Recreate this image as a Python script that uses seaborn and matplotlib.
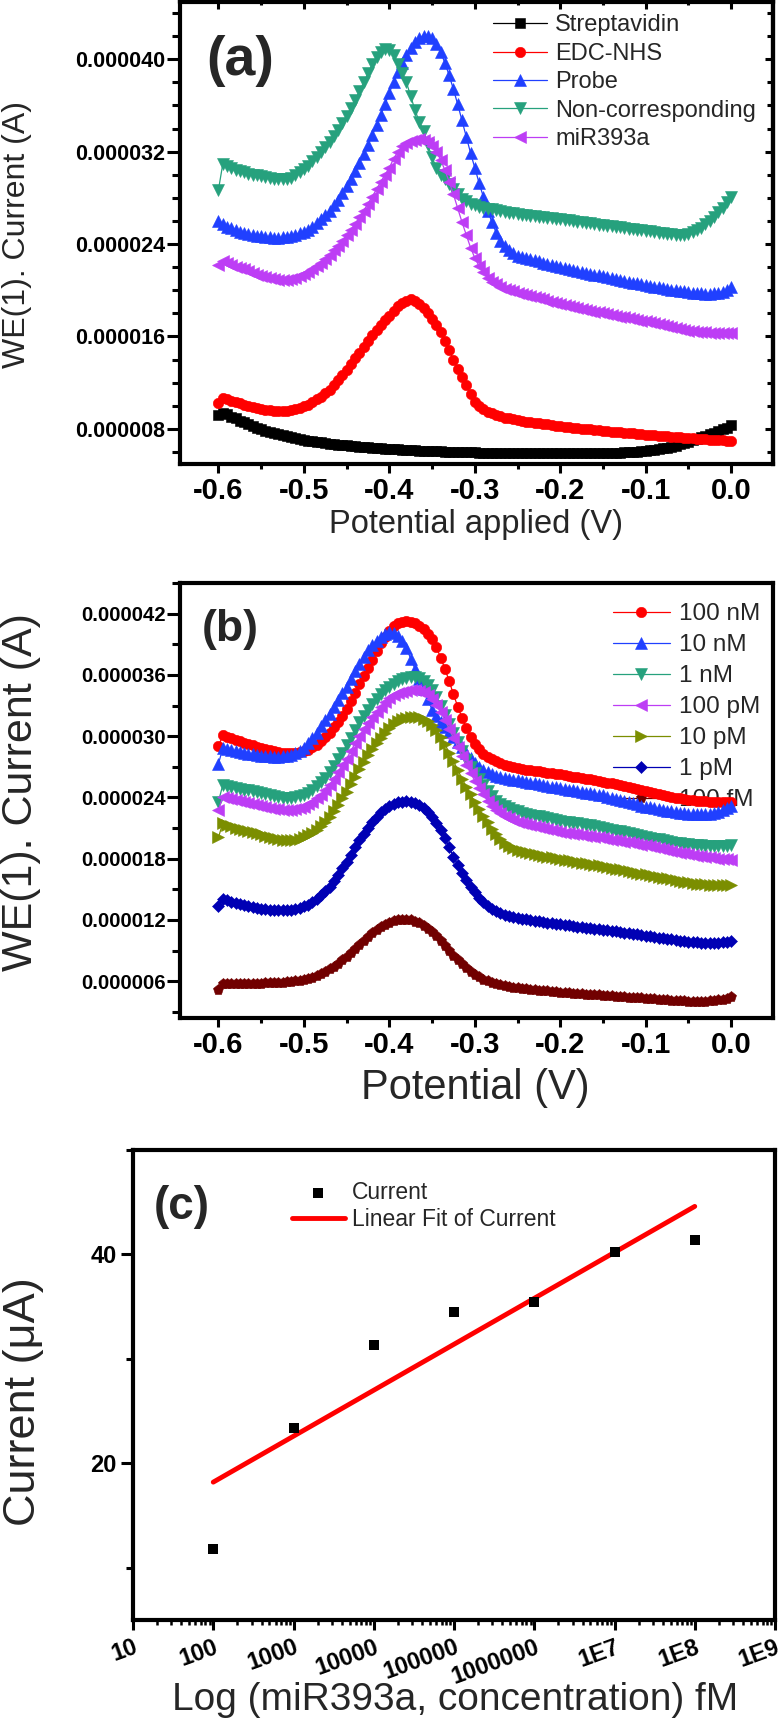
import numpy as np
import matplotlib
matplotlib.use("Agg")
import matplotlib.pyplot as plt
from matplotlib.ticker import MultipleLocator, LogLocator, NullFormatter
import seaborn as sns

# ---------------------------------------------------------------- data
potential = np.round(np.linspace(-0.6, 0.0, 121), 3)  # V, 5 mV steps

# panel (a) currents, uA
strep = [9.2, 9.4, 9.25, 9.05, 8.9, 8.7, 8.55, 8.4, 8.25, 8.1,
         7.95, 7.85, 7.75, 7.65, 7.55, 7.45, 7.35, 7.28, 7.2, 7.12,
         7.05, 6.99, 6.93, 6.88, 6.83, 6.78, 6.73, 6.68, 6.64, 6.6,
         6.56, 6.53, 6.5, 6.47, 6.44, 6.41, 6.38, 6.35, 6.32, 6.29,
         6.26, 6.24, 6.22, 6.2, 6.18, 6.16, 6.14, 6.12, 6.1, 6.08,
         6.06, 6.05, 6.04, 6.03, 6.02, 6.01, 6.0, 5.99, 5.98, 5.97,
         5.96, 5.95, 5.95, 5.95, 5.94, 5.94, 5.94, 5.93, 5.93, 5.93,
         5.92, 5.92, 5.92, 5.91, 5.91, 5.91, 5.9, 5.9, 5.9, 5.9,
         5.9, 5.89, 5.89, 5.89, 5.88, 5.88, 5.88, 5.88, 5.88, 5.88,
         5.89, 5.9, 5.91, 5.92, 5.94, 5.96, 5.98, 6.0, 6.03, 6.06,
         6.1, 6.14, 6.19, 6.25, 6.31, 6.38, 6.46, 6.55, 6.65, 6.76,
         6.88, 7.0, 7.13, 7.26, 7.4, 7.54, 7.68, 7.82, 7.96, 8.1,
         8.3]
edc = [10.23, 10.67, 10.55, 10.45, 10.35, 10.25, 10.1, 10.0, 9.9, 9.8,
       9.7, 9.64, 9.6, 9.56, 9.53, 9.52, 9.54, 9.6, 9.7, 9.82,
       9.95, 10.1, 10.3, 10.55, 10.8, 11.1, 11.4, 11.8, 12.2, 12.65,
       13.1, 13.6, 14.1, 14.6, 15.1, 15.6, 16.1, 16.55, 17.0, 17.4,
       17.8, 18.2, 18.6, 18.9, 19.1, 19.2, 19.1, 18.85, 18.5, 18.05,
       17.5, 17.0, 16.4, 15.6, 14.8, 14.0, 13.2, 12.5, 11.8, 11.0,
       10.3, 9.95, 9.7, 9.5, 9.35, 9.2, 9.08, 8.98, 8.9, 8.82,
       8.75, 8.69, 8.63, 8.58, 8.53, 8.48, 8.43, 8.38, 8.33, 8.28,
       8.23, 8.19, 8.15, 8.11, 8.07, 8.03, 7.99, 7.95, 7.91, 7.87,
       7.83, 7.8, 7.76, 7.73, 7.7, 7.66, 7.63, 7.6, 7.57, 7.54,
       7.5, 7.47, 7.44, 7.41, 7.38, 7.35, 7.32, 7.29, 7.26, 7.23,
       7.2, 7.17, 7.14, 7.12, 7.09, 7.07, 7.05, 7.03, 7.01, 6.99,
       6.97]
probe = [26.0, 25.7, 25.5, 25.35, 25.2, 25.05, 24.95, 24.85, 24.78, 24.72,
         24.66, 24.61, 24.57, 24.55, 24.55, 24.57, 24.62, 24.7, 24.8, 24.92,
         25.05, 25.25, 25.5, 25.8, 26.15, 26.5, 26.9, 27.35, 27.85, 28.4,
         29.0, 29.6, 30.3, 31.0, 31.8, 32.6, 33.4, 34.3, 35.2, 36.1,
         37.1, 38.0, 38.9, 39.7, 40.4, 41.0, 41.5, 41.8, 42.0, 42.0,
         41.8, 41.3, 40.6, 39.7, 38.6, 37.4, 36.1, 34.7, 33.3, 31.9,
         30.6, 29.3, 28.1, 26.9, 25.9, 25.0, 24.3, 23.8, 23.45, 23.2,
         23.0, 22.9, 22.8, 22.7, 22.6, 22.5, 22.4, 22.3, 22.2, 22.1,
         22.0, 21.92, 21.84, 21.76, 21.68, 21.6, 21.52, 21.44, 21.36, 21.28,
         21.2, 21.12, 21.04, 20.96, 20.88, 20.8, 20.73, 20.66, 20.59, 20.52,
         20.45, 20.38, 20.31, 20.24, 20.17, 20.1, 20.05, 20.0, 19.95, 19.9,
         19.85, 19.8, 19.76, 19.73, 19.71, 19.7, 19.72, 19.78, 19.88, 20.05,
         20.3]
noncorr = [28.7, 30.9, 30.75, 30.6, 30.45, 30.3, 30.2, 30.1, 30.0, 29.95,
           29.9, 29.8, 29.7, 29.65, 29.6, 29.6, 29.65, 29.75, 29.95, 30.2,
           30.5, 30.8, 31.15, 31.55, 32.0, 32.4, 32.85, 33.35, 33.9, 34.5,
           35.1, 35.8, 36.5, 37.25, 38.0, 38.8, 39.6, 40.2, 40.6, 40.85,
           40.8, 40.4, 39.6, 38.8, 38.0, 36.8, 35.6, 34.6, 33.8, 32.6,
           31.5, 30.6, 30.0, 29.6, 29.2, 28.8, 28.3, 27.9, 27.7, 27.5,
           27.35, 27.25, 27.15, 27.07, 27.0, 26.92, 26.85, 26.78, 26.71, 26.65,
           26.6, 26.55, 26.5, 26.45, 26.4, 26.35, 26.3, 26.26, 26.22, 26.18,
           26.14, 26.09, 26.04, 25.99, 25.94, 25.89, 25.84, 25.79, 25.74, 25.69,
           25.64, 25.59, 25.54, 25.49, 25.44, 25.39, 25.34, 25.29, 25.24, 25.19,
           25.14, 25.09, 25.04, 24.99, 24.94, 24.9, 24.86, 24.82, 24.8, 24.82,
           24.9, 25.02, 25.2, 25.42, 25.7, 26.0, 26.35, 26.75, 27.15, 27.6,
           28.05]
mir393a = [22.2, 22.5, 22.35, 22.2, 22.05, 21.9, 21.8, 21.65, 21.5, 21.35,
           21.25, 21.15, 21.05, 20.98, 20.92, 20.9, 20.92, 21.0, 21.1, 21.25,
           21.4, 21.6, 21.85, 22.1, 22.4, 22.7, 23.05, 23.45, 23.85, 24.3,
           24.75, 25.25, 25.75, 26.3, 26.9, 27.5, 28.1, 28.75, 29.4, 30.0,
           30.6, 31.4, 32.0, 32.45, 32.75, 32.95, 33.05, 33.1, 33.05, 32.85,
           32.5, 32.0, 31.3, 30.4, 29.4, 28.3, 27.1, 25.9, 24.8, 23.7,
           22.8, 22.1, 21.55, 21.1, 20.75, 20.5, 20.3, 20.15, 20.02, 19.9,
           19.8, 19.7, 19.6, 19.5, 19.4, 19.3, 19.2, 19.1, 19.0, 18.9,
           18.8, 18.72, 18.64, 18.56, 18.48, 18.4, 18.32, 18.24, 18.16, 18.08,
           18.0, 17.93, 17.86, 17.79, 17.72, 17.65, 17.58, 17.51, 17.44, 17.37,
           17.3, 17.22, 17.14, 17.06, 16.98, 16.9, 16.82, 16.74, 16.66, 16.58,
           16.5, 16.45, 16.41, 16.38, 16.35, 16.33, 16.31, 16.3, 16.3, 16.3,
           16.3]

# panel (b) currents, uA
nM100 = [29.0, 30.1, 29.95, 29.8, 29.65, 29.5, 29.38, 29.25, 29.1, 28.95,
         28.82, 28.7, 28.6, 28.5, 28.42, 28.36, 28.32, 28.32, 28.35, 28.42,
         28.52, 28.68, 28.9, 29.18, 29.5, 29.9, 30.35, 30.85, 31.4, 32.0,
         32.7, 33.45, 34.25, 35.1, 35.9, 36.7, 37.5, 38.3, 39.1, 39.75,
         40.3, 40.75, 41.05, 41.2, 41.25, 41.2, 41.05, 40.8, 40.45, 40.0,
         39.5, 38.7, 37.7, 36.6, 35.4, 34.1, 32.9, 31.8, 30.8, 29.9,
         29.2, 28.7, 28.3, 28.0, 27.75, 27.55, 27.38, 27.22, 27.08, 26.95,
         26.85, 26.79, 26.73, 26.67, 26.61, 26.55, 26.49, 26.43, 26.37, 26.31,
         26.25, 26.18, 26.11, 26.04, 25.97, 25.9, 25.83, 25.76, 25.69, 25.62,
         25.55, 25.46, 25.37, 25.28, 25.19, 25.1, 25.0, 24.9, 24.8, 24.7,
         24.6, 24.51, 24.42, 24.33, 24.24, 24.15, 24.06, 23.98, 23.9, 23.83,
         23.77, 23.72, 23.68, 23.65, 23.62, 23.6, 23.58, 23.57, 23.57, 23.58,
         23.6]
nM10 = [27.3, 28.8, 28.7, 28.6, 28.5, 28.42, 28.35, 28.28, 28.22, 28.16,
        28.1, 28.06, 28.03, 28.0, 28.0, 28.02, 28.08, 28.2, 28.35, 28.55,
        28.8, 29.3, 29.8, 30.35, 30.95, 31.55, 32.2, 32.85, 33.5, 34.2,
        34.8, 35.6, 36.4, 37.1, 37.8, 38.4, 38.9, 39.35, 39.75, 40.05,
        40.2, 40.1, 39.8, 39.3, 38.6, 37.6, 36.6, 35.6, 34.6, 33.6,
        32.6, 32.0, 31.4, 30.9, 30.4, 29.9, 29.4, 28.9, 28.4, 27.9,
        27.4, 27.0, 26.7, 26.45, 26.25, 26.1, 26.0, 25.9, 25.82, 25.75,
        25.7, 25.62, 25.54, 25.46, 25.38, 25.3, 25.22, 25.14, 25.06, 24.98,
        24.9, 24.83, 24.76, 24.69, 24.62, 24.55, 24.48, 24.41, 24.34, 24.27,
        24.2, 24.09, 23.98, 23.87, 23.76, 23.65, 23.54, 23.43, 23.32, 23.21,
        23.1, 23.02, 22.94, 22.86, 22.78, 22.7, 22.63, 22.56, 22.5, 22.45,
        22.41, 22.38, 22.36, 22.35, 22.36, 22.4, 22.48, 22.6, 22.77, 22.97,
        23.2]
nM1 = [23.6, 25.2, 25.1, 25.0, 24.92, 24.84, 24.76, 24.68, 24.6, 24.5,
       24.42, 24.32, 24.22, 24.1, 24.0, 23.93, 23.92, 23.95, 24.02, 24.1,
       24.22, 24.45, 24.75, 25.1, 25.5, 25.95, 26.45, 27.1, 27.75, 28.4,
       29.1, 29.85, 30.6, 31.35, 32.0, 32.6, 33.15, 33.65, 34.1, 34.5,
       34.85, 35.15, 35.4, 35.58, 35.7, 35.78, 35.8, 35.72, 35.45, 35.05,
       34.5, 33.8, 33.0, 32.1, 31.2, 30.3, 29.4, 28.5, 27.7, 27.0,
       26.4, 25.8, 25.2, 24.6, 24.1, 23.7, 23.4, 23.15, 22.95, 22.78,
       22.63, 22.52, 22.42, 22.32, 22.23, 22.14, 22.05, 21.96, 21.87, 21.78,
       21.69, 21.63, 21.57, 21.51, 21.45, 21.39, 21.33, 21.27, 21.2, 21.12,
       21.03, 20.94, 20.85, 20.76, 20.67, 20.58, 20.49, 20.4, 20.31, 20.22,
       20.13, 20.05, 19.97, 19.89, 19.81, 19.73, 19.65, 19.58, 19.51, 19.45,
       19.4, 19.36, 19.33, 19.31, 19.29, 19.28, 19.27, 19.27, 19.27, 19.28,
       19.3]
pM100 = [22.75, 24.05, 23.95, 23.85, 23.75, 23.66, 23.57, 23.48, 23.39, 23.3,
         23.2, 23.1, 23.0, 22.9, 22.82, 22.77, 22.75, 22.78, 22.85, 22.95,
         23.1, 23.32, 23.6, 23.92, 24.28, 24.68, 25.2, 25.85, 26.5, 27.15,
         27.8, 28.55, 29.3, 30.05, 30.7, 31.3, 31.85, 32.4, 32.9, 33.35,
         33.7, 34.0, 34.2, 34.35, 34.45, 34.5, 34.5, 34.45, 34.3, 34.0,
         33.65, 33.1, 32.4, 31.6, 30.75, 29.85, 28.95, 28.05, 27.2, 26.4,
         25.65, 24.95, 24.3, 23.7, 23.2, 22.8, 22.48, 22.22, 22.0, 21.8,
         21.63, 21.52, 21.42, 21.32, 21.22, 21.12, 21.02, 20.92, 20.82, 20.72,
         20.62, 20.56, 20.5, 20.44, 20.38, 20.32, 20.26, 20.2, 20.14, 20.08,
         20.02, 19.95, 19.88, 19.81, 19.74, 19.67, 19.6, 19.53, 19.46, 19.39,
         19.32, 19.23, 19.14, 19.05, 18.96, 18.87, 18.78, 18.69, 18.6, 18.52,
         18.44, 18.37, 18.3, 18.24, 18.18, 18.12, 18.06, 18.01, 17.97, 17.93,
         17.9]
pM10 = [20.1, 21.45, 21.3, 21.17, 21.05, 20.94, 20.83, 20.72, 20.61, 20.5,
        20.38, 20.26, 20.14, 20.02, 19.92, 19.85, 19.82, 19.83, 19.88, 19.97,
        20.1, 20.3, 20.55, 20.85, 21.2, 21.6, 22.05, 22.65, 23.25, 23.9,
        24.55, 25.3, 26.05, 26.8, 27.5, 28.15, 28.75, 29.3, 29.85, 30.35,
        30.8, 31.15, 31.45, 31.65, 31.8, 31.88, 31.9, 31.85, 31.7, 31.45,
        31.1, 30.6, 29.95, 29.2, 28.4, 27.55, 26.7, 25.85, 25.05, 24.3,
        23.55, 22.85, 22.2, 21.55, 20.95, 20.4, 19.95, 19.58, 19.28, 19.03,
        18.82, 18.72, 18.63, 18.54, 18.45, 18.37, 18.29, 18.21, 18.13, 18.05,
        17.97, 17.9, 17.83, 17.76, 17.69, 17.62, 17.55, 17.48, 17.41, 17.34,
        17.27, 17.19, 17.11, 17.03, 16.95, 16.87, 16.79, 16.71, 16.63, 16.55,
        16.47, 16.39, 16.31, 16.23, 16.15, 16.07, 15.99, 15.91, 15.83, 15.76,
        15.69, 15.63, 15.57, 15.52, 15.48, 15.45, 15.42, 15.4, 15.39, 15.39,
        15.4]
pM1 = [13.4, 14.1, 13.95, 13.8, 13.66, 13.54, 13.43, 13.33, 13.24, 13.16,
       13.1, 13.05, 13.0, 12.97, 12.95, 12.95, 12.97, 13.02, 13.1, 13.2,
       13.32, 13.5, 13.75, 14.05, 14.4, 14.8, 15.25, 15.8, 16.4, 17.05,
       17.7, 18.4, 19.1, 19.8, 20.45, 21.05, 21.6, 22.1, 22.55, 22.9,
       23.2, 23.4, 23.53, 23.6, 23.62, 23.6, 23.5, 23.3, 23.0, 22.6,
       22.1, 21.5, 20.8, 20.0, 19.1, 18.2, 17.4, 16.6, 15.9, 15.25,
       14.7, 14.2, 13.75, 13.4, 13.1, 12.85, 12.65, 12.5, 12.38, 12.28,
       12.2, 12.13, 12.06, 11.99, 11.92, 11.86, 11.8, 11.74, 11.68, 11.62,
       11.56, 11.51, 11.46, 11.41, 11.36, 11.31, 11.26, 11.21, 11.16, 11.11,
       11.06, 11.0, 10.94, 10.88, 10.82, 10.76, 10.7, 10.64, 10.58, 10.52,
       10.46, 10.4, 10.34, 10.28, 10.22, 10.16, 10.1, 10.04, 9.98, 9.93,
       9.88, 9.84, 9.8, 9.77, 9.75, 9.74, 9.74, 9.76, 9.8, 9.87,
       9.97]
fM100 = [5.1, 5.75, 5.76, 5.76, 5.76, 5.76, 5.76, 5.76, 5.76, 5.76,
         5.77, 5.78, 5.8, 5.82, 5.84, 5.87, 5.9, 5.94, 5.99, 6.05,
         6.12, 6.22, 6.34, 6.5, 6.68, 6.9, 7.15, 7.42, 7.72, 8.05,
         8.4, 8.78, 9.17, 9.57, 9.97, 10.35, 10.7, 11.02, 11.3, 11.53,
         11.72, 11.86, 11.95, 12.0, 12.0, 11.95, 11.85, 11.68, 11.45, 11.15,
         10.8, 10.4, 9.95, 9.48, 9.0, 8.52, 8.06, 7.64, 7.26, 6.92,
         6.62, 6.37, 6.16, 5.98, 5.83, 5.7, 5.6, 5.51, 5.43, 5.36,
         5.3, 5.25, 5.2, 5.16, 5.12, 5.08, 5.04, 5.0, 4.96, 4.92,
         4.88, 4.85, 4.82, 4.79, 4.76, 4.73, 4.7, 4.67, 4.64, 4.61,
         4.58, 4.55, 4.52, 4.49, 4.46, 4.43, 4.4, 4.37, 4.34, 4.31,
         4.28, 4.25, 4.22, 4.19, 4.16, 4.13, 4.1, 4.07, 4.05, 4.03,
         4.01, 4.0, 3.99, 3.99, 4.0, 4.02, 4.06, 4.12, 4.2, 4.3,
         4.45]

# panel (c)
concentration_fM = [1e2, 1e3, 1e4, 1e5, 1e6, 1e7, 1e8]
peak_current_uA = [11.8, 23.4, 31.3, 34.45, 35.4, 40.2, 41.4]
fit_conc_fM = [1e2, 1e8]
fit_current_uA = [18.2, 44.6]

a_names = ["Streptavidin", "EDC-NHS", "Probe", "Non-corresponding", "miR393a"]
b_names = ["100 nM", "10 nM", "1 nM", "100 pM", "10 pM", "1 pM", "100 fM"]

v_ticks = [-0.6, -0.5, -0.4, -0.3, -0.2, -0.1, 0.0]
v_labels = ["-0.6", "-0.5", "-0.4", "-0.3", "-0.2", "-0.1", "0.0"]
a_yticks = [8e-6, 16e-6, 24e-6, 32e-6, 40e-6]
a_ylabels = ["0.000008", "0.000016", "0.000024", "0.000032", "0.000040"]
b_yticks = [6e-6, 12e-6, 18e-6, 24e-6, 30e-6, 36e-6, 42e-6]
b_ylabels = ["0.000006", "0.000012", "0.000018", "0.000024", "0.000030",
             "0.000036", "0.000042"]
c_xticks = [1e1, 1e2, 1e3, 1e4, 1e5, 1e6, 1e7, 1e8, 1e9]
c_xlabels = ["10", "100", "1000", "10000", "100000", "1000000", "1E7", "1E8", "1E9"]
c_yticks = [20, 40]
c_ylabels = ["20", "40"]

# ---------------------------------------------------------------- style
sns.set_style("ticks")
plt.rcParams["font.family"] = ["Liberation Sans", "DejaVu Sans"]
plt.rcParams["axes.edgecolor"] = "black"
plt.rcParams["xtick.color"] = "black"
plt.rcParams["ytick.color"] = "black"

SPINE = 3.0
TW = 2.2

fig = plt.figure(figsize=(7.8, 17.22), dpi=100)
W, H = 780.0, 1722.0


def add_axes_px(left, top, right, bottom):
    return fig.add_axes([left / W, 1 - bottom / H, (right - left) / W, (bottom - top) / H])


ax_a = add_axes_px(180, 1.5, 773, 463.5)
ax_b = add_axes_px(180, 583, 773, 1018)
ax_c = add_axes_px(133, 1150, 775, 1620)


def style_potential(ax, yticks, ylabels, ylim, ytick_fs, minor_y):
    ax.set_xlim(-0.645, 0.049)
    ax.set_ylim(*ylim)
    ax.set_xticks(v_ticks)
    ax.set_xticklabels(v_labels, fontsize=21, fontweight="bold")
    ax.xaxis.set_minor_locator(MultipleLocator(0.05))
    ax.set_yticks(yticks)
    ax.set_yticklabels(ylabels, fontsize=ytick_fs, fontweight="bold")
    ax.yaxis.set_minor_locator(MultipleLocator(minor_y))
    ax.tick_params(axis="x", which="major", direction="out", length=6.5, width=TW, pad=3,
                   top=False)
    ax.tick_params(axis="x", which="minor", direction="out", length=3.6, width=TW, top=False)
    ax.tick_params(axis="y", which="major", direction="out", length=9.4, width=TW, pad=1,
                   right=False)
    ax.tick_params(axis="y", which="minor", direction="out", length=5.8, width=TW,
                   right=False)
    for s in ax.spines.values():
        s.set_visible(True)
        s.set_linewidth(SPINE)
        s.set_color("black")


# ---------------------------------------------------------------- panel (a)
a_values = [strep, edc, probe, noncorr, mir393a]
a_colors = ["#000000", "#FF0000", "#2040FF", "#26A17D", "#BD3DF5"]
a_markers = ["s", "o", "^", "v", "<"]
a_sizes = [7.0, 7.5, 8.5, 8.5, 8.5]
for name, vals, col, mk, ms in zip(a_names, a_values, a_colors, a_markers, a_sizes):
    sns.lineplot(x=potential, y=np.asarray(vals) * 1e-6, ax=ax_a, color=col, marker=mk,
                 markersize=ms, markeredgewidth=0.4, markeredgecolor=col, linewidth=0.9,
                 label=name)

style_potential(ax_a, a_yticks, a_ylabels, (5e-6, 45e-6), 15.5, 2e-6)
sx = ax_a.secondary_xaxis("top")
sx.set_xticks(v_ticks)
sx.set_xticklabels([])
sx.xaxis.set_minor_locator(MultipleLocator(0.05))
sx.tick_params(which="major", direction="in", length=6, width=TW)
sx.tick_params(which="minor", direction="in", length=3, width=TW)
sy = ax_a.secondary_yaxis("right")
sy.set_yticks(a_yticks)
sy.set_yticklabels([])
sy.yaxis.set_minor_locator(MultipleLocator(2e-6))
sy.tick_params(which="major", direction="in", length=5.5, width=TW)
sy.tick_params(which="minor", direction="in", length=4, width=TW)
for sec in (sx, sy):
    for s in sec.spines.values():
        s.set_linewidth(SPINE)

ax_a.set_xlabel("Potential applied (V)", fontsize=23.5)
ax_a.xaxis.set_label_coords(0.499, -0.131)
ax_a.xaxis.label.set_va("center")
ax_a.set_ylabel("WE(1). Current (A)", fontsize=23)
ax_a.yaxis.set_label_coords(-0.275, 0.495)
ax_a.yaxis.label.set_va("center")
ax_a.text(0.101, 0.871, "(a)", transform=ax_a.transAxes, fontsize=40, fontweight="bold",
          ha="center", va="center")
leg_a = ax_a.legend(loc="upper left", bbox_to_anchor=(0.528, 0.972), frameon=False,
                    fontsize=17, handlelength=2.29, handletextpad=0.34, labelspacing=0.27,
                    borderpad=0, borderaxespad=0, numpoints=1)

# ---------------------------------------------------------------- panel (b)
b_values = [nM100, nM10, nM1, pM100, pM10, pM1, fM100]
b_colors = ["#FF0000", "#2040FF", "#26A17D", "#BD3DF5", "#7B8E00", "#0000B4", "#710000"]
b_markers = ["o", "^", "v", "<", ">", "D", "p"]
b_sizes = [7.5, 8.5, 8.5, 8.5, 8.5, 6.0, 8.0]
for name, vals, col, mk, ms in zip(b_names, b_values, b_colors, b_markers, b_sizes):
    sns.lineplot(x=potential, y=np.asarray(vals) * 1e-6, ax=ax_b, color=col, marker=mk,
                 markersize=ms, markeredgewidth=0.4, markeredgecolor=col, linewidth=0.9,
                 label=name)

style_potential(ax_b, b_yticks, b_ylabels, (2.4e-6, 45e-6), 14.7, 3e-6)
ax_b.set_xlabel("Potential (V)", fontsize=30)
ax_b.xaxis.set_label_coords(0.4975, -0.161)
ax_b.xaxis.label.set_va("center")
ax_b.set_ylabel("WE(1). Current (A)", fontsize=31)
ax_b.yaxis.set_label_coords(-0.268, 0.52)
ax_b.yaxis.label.set_va("center")
ax_b.text(0.0843, 0.894, "(b)", transform=ax_b.transAxes, fontsize=32, fontweight="bold",
          ha="center", va="center")
leg_b = ax_b.legend(loc="upper left", bbox_to_anchor=(0.730, 0.954), frameon=False,
                    fontsize=17.5, handlelength=2.35, handletextpad=0.37, labelspacing=0.37,
                    borderpad=0, borderaxespad=0, numpoints=1)
leg_b.set_zorder(1)

# ---------------------------------------------------------------- panel (c)
ax_c.set_xscale("log")
sns.scatterplot(x=concentration_fM, y=peak_current_uA, ax=ax_c, marker="s", color="black",
                s=52, linewidth=0, label="Current", zorder=3)
sns.lineplot(x=fit_conc_fM, y=fit_current_uA, ax=ax_c, color="#FF0000", linewidth=3.5,
             label="Linear Fit of Current")
ax_c.set_xlim(10, 1e9)
ax_c.set_ylim(5, 50)
ax_c.set_xticks(c_xticks)
ax_c.set_xticklabels(c_xlabels, rotation=20, ha="right", rotation_mode="anchor",
                     fontsize=17, fontweight="bold")
ax_c.xaxis.set_minor_locator(LogLocator(base=10, subs=np.arange(2, 10)))
ax_c.xaxis.set_minor_formatter(NullFormatter())
ax_c.set_yticks(c_yticks)
ax_c.set_yticklabels(c_ylabels, fontsize=17, fontweight="bold")
ax_c.yaxis.set_minor_locator(MultipleLocator(10))
ax_c.tick_params(axis="x", which="major", direction="out", length=7.2, width=TW, pad=4,
                 top=False)
ax_c.tick_params(axis="x", which="minor", direction="out", length=3.6, width=1.8, top=False)
ax_c.tick_params(axis="y", which="major", direction="out", length=8.6, width=TW, pad=3,
                 right=False)
ax_c.tick_params(axis="y", which="minor", direction="out", length=5, width=TW, right=False)
for s in ax_c.spines.values():
    s.set_visible(True)
    s.set_linewidth(SPINE)
    s.set_color("black")
ax_c.set_xlabel("Log (miR393a, concentration) fM", fontsize=28)
ax_c.xaxis.set_label_coords(0.5016, -0.170)
ax_c.xaxis.label.set_va("center")
ax_c.set_ylabel("Current (\u03bcA)", fontsize=32.5)
ax_c.yaxis.set_label_coords(-0.170, 0.464)
ax_c.yaxis.label.set_va("center")
ax_c.text(0.0763, 0.879, "(c)", transform=ax_c.transAxes, fontsize=33, fontweight="bold",
          ha="center", va="center")
ax_c.legend(loc="upper left", bbox_to_anchor=(0.2477, 0.934), frameon=False,
            fontsize=16.5, handlelength=2.31, handletextpad=0.31, labelspacing=0.16,
            borderpad=0, borderaxespad=0, scatterpoints=1)

fig.savefig("out.png", dpi=100)
